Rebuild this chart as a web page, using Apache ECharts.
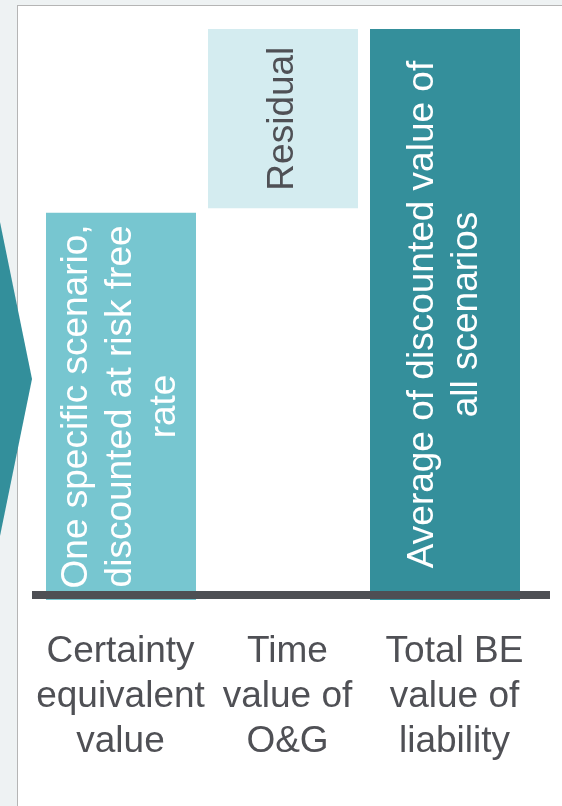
<!DOCTYPE html>
<html>
<head>
<meta charset="utf-8">
<script src="https://cdn.jsdelivr.net/npm/echarts@6/dist/echarts.min.js"></script>
<style>
  html, body { margin: 0; padding: 0; width: 562px; height: 806px; overflow: hidden; background: #eef2f3; }
  #panel { position: absolute; left: 17px; top: 5px; width: 620px; height: 900px; background: #ffffff; border-left: 1px solid #b5b5b5; border-top: 1px solid #b5b5b5; }
  #chart { position: absolute; left: 0; top: 0; width: 562px; height: 806px; }
</style>
</head>
<body>
<div id="panel"></div>
<div id="chart"></div>
<script>
// ---- data ----
const categories = ['Certainty\nequivalent\nvalue', 'Time\nvalue of\nO&G', 'Total BE\nvalue of\nliability'];
const baseValues = [0, 68.6, 0];          // invisible offset (waterfall)
const barValues = [67.8, 31.4, 100];      // visible bar heights
const barTexts = [
  'One specific scenario,\ndiscounted at risk free\nrate',
  'Residual',
  'Average of discounted value of\nall scenarios'
];
const barColors = ['#77c6d0', '#d4ecf0', '#348f9b'];
const barTextColors = ['#ffffff', '#4f5055', '#ffffff'];

const textColor = '#4f5055';
const font = 'Arial, "Liberation Sans", sans-serif';

const chart = echarts.init(document.getElementById('chart'), null, { renderer: 'canvas' });
chart.setOption({
  backgroundColor: 'transparent',
  animation: false,
  grid: [
    { left: 40, right: 36, top: 29, bottom: 206 },   // bars
    { left: 32, right: 12, top: 29, bottom: 211 },   // baseline
    { left: 37, right: 24, top: 29, bottom: 206 }    // category labels
  ],
  xAxis: [
    { type: 'category', gridIndex: 0, data: categories, axisLine: { show: false }, axisTick: { show: false }, axisLabel: { show: false } },
    { type: 'category', gridIndex: 1, data: categories, z: 10, axisLine: { show: true, lineStyle: { color: '#4e4f54', width: 8, cap: 'butt' } }, axisTick: { show: false }, axisLabel: { show: false } },
    { type: 'category', gridIndex: 2, data: categories, axisLine: { show: false }, axisTick: { show: false },
      axisLabel: { show: true, interval: 0, margin: 29, color: textColor, fontSize: 37, lineHeight: 45, fontFamily: font, align: 'center' } }
  ],
  yAxis: [
    { type: 'value', gridIndex: 0, min: 0, max: 100, show: false },
    { type: 'value', gridIndex: 1, min: 0, max: 100, show: false },
    { type: 'value', gridIndex: 2, min: 0, max: 100, show: false }
  ],
  graphic: [
    { type: 'polygon', z: 0, shape: { points: [[0, 222], [32, 379], [0, 536]] }, style: { fill: '#338f9b' } }
  ],
  series: [
    {
      type: 'bar', xAxisIndex: 0, yAxisIndex: 0, stack: 'w', barWidth: 150,
      itemStyle: { color: 'transparent' }, silent: true,
      data: baseValues
    },
    {
      type: 'bar', xAxisIndex: 0, yAxisIndex: 0, stack: 'w', barWidth: 150,
      data: barValues.map((v, i) => ({
        value: v,
        itemStyle: { color: barColors[i] },
        label: {
          show: true, position: 'inside', rotate: 90,
          formatter: barTexts[i],
          color: barTextColors[i], fontSize: 37, lineHeight: 44, fontFamily: font, align: 'center', verticalAlign: 'middle'
        }
      }))
    }
  ]
});
</script>
</body>
</html>
